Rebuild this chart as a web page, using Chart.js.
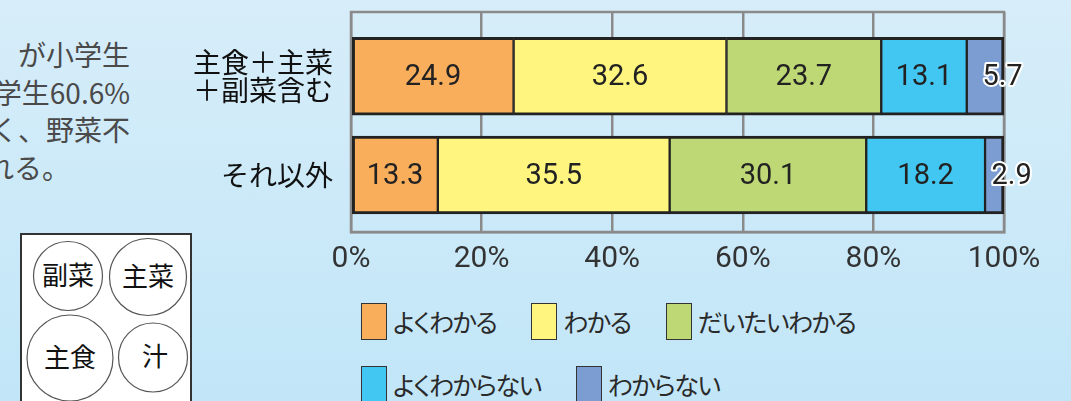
<!DOCTYPE html>
<html lang="ja">
<head>
<meta charset="utf-8">
<script src="https://cdn.jsdelivr.net/npm/chart.js@4.4.1/dist/chart.umd.min.js"></script>
<style>
  html, body { margin: 0; padding: 0; }
  body {
    width: 1071px; height: 401px; overflow: hidden; position: relative;
    background: linear-gradient(180deg, #d7edf9 0%, #c1e6f8 100%);
    font-family: "Noto Sans CJK JP", sans-serif;
  }
  #para { position: absolute; left: -200px; top: 36px; width: 330px; color: #4a4a4a;
          font-size: 28px; line-height: 37.5px; text-align: right; white-space: nowrap; }
  #para .last { padding-right: 60px; }
  #plate { position: absolute; left: 20px; top: 233px; width: 168px; height: 200px;
           background: #fff; border: 2px solid #333; }
  #dishes { position: absolute; left: 0; top: 0; }
  #chartBox { position: absolute; left: 150px; top: 0; }
  #legend { position: absolute; left: 361px; top: 302px; color: #2a2a2a; font-size: 25px;
            letter-spacing: -1.5px; font-feature-settings: "palt"; }
  .row { display: flex; gap: 35px; height: 38px; margin-bottom: 25px; }
  .item { display: flex; align-items: center; }
  .swatch { width: 24px; height: 35px; border: 1.5px solid #333; margin-right: 6px; }
</style>
</head>
<body>

<div id="para">
  <div>が小学生</div>
  <div>学生60.6%</div>
  <div>く、野菜不</div>
  <div class="last">れる。</div>
</div>

<div id="plate"></div>
<svg id="dishes" width="200" height="401" font-family="Noto Sans CJK JP" font-size="26" fill="#111" text-anchor="middle">
  <g fill="#fff" stroke="#555" stroke-width="1.2">
    <circle cx="68" cy="276" r="34.5"/>
    <circle cx="148" cy="277" r="38.5"/>
    <circle cx="70" cy="358" r="43"/>
    <circle cx="153" cy="357.5" r="34.5"/>
  </g>
  <text x="68" y="285">副菜</text>
  <text x="148" y="286">主菜</text>
  <text x="70" y="367">主食</text>
  <text x="155" y="366">汁</text>
</svg>

<div id="chartBox"><canvas id="barChart" width="921" height="290"></canvas></div>
<div id="legend"></div>

<script>
// categories (top to bottom) and series values (%)
const categories = [['主食＋主菜', '＋副菜含む'], 'それ以外'];
const seriesNames = ['よくわかる', 'わかる', 'だいたいわかる', 'よくわからない', 'わからない'];
const yokuWakaru = [24.9, 13.3];
const wakaru = [32.6, 35.5];
const daitaiWakaru = [23.7, 30.1];
const yokuWakaranai = [13.1, 18.2];
const wakaranai = [5.7, 2.9];
const xTickLabels = ['0%', '20%', '40%', '60%', '80%', '100%'];
const seriesColors = ['#f9ae5c', '#fff57f', '#bdd874', '#41c7f2', '#7c9dd1'];

const seriesValues = [yokuWakaru, wakaru, daitaiWakaru, yokuWakaranai, wakaranai];
const gridColor = '#8a8a8a';

// legend (html, two rows like the print)
const legendEl = document.getElementById('legend');
[[0, 1, 2], [3, 4]].forEach(idxs => {
    const row = document.createElement('div');
    row.className = 'row';
    idxs.forEach(i => {
        const item = document.createElement('div');
        item.className = 'item';
        item.innerHTML = `<span class="swatch" style="background:${seriesColors[i]}"></span><span>${seriesNames[i]}</span>`;
        row.appendChild(item);
    });
    legendEl.appendChild(row);
});

// grey frame round the plot area
const frame = {
    id: 'frame',
    beforeDatasetsDraw(chart) {
        const { ctx, chartArea: a } = chart;
        ctx.save();
        ctx.strokeStyle = gridColor;
        ctx.lineWidth = 2.5;
        ctx.strokeRect(a.left, a.top, a.right - a.left, a.bottom - a.top);
        ctx.restore();
    }
};

// value labels inside the segments
const barLabels = {
    id: 'barLabels',
    afterDatasetsDraw(chart) {
        const ctx = chart.ctx;
        ctx.save();
        ctx.font = '29px Roboto';
        ctx.textBaseline = 'middle';
        ctx.lineJoin = 'round';
        chart.data.datasets.forEach((ds, di) => {
            chart.getDatasetMeta(di).data.forEach((bar, i) => {
                const v = ds.data[i].x;
                const txt = v.toFixed(1);
                const mid = (bar.x + bar.base) / 2;
                const y = bar.y + 2;
                if (v < 8) {
                    ctx.textAlign = 'left';
                    ctx.lineWidth = 4;
                    ctx.strokeStyle = '#fff';
                    ctx.strokeText(txt, mid - 3, y);
                    ctx.fillStyle = '#222';
                    ctx.fillText(txt, mid - 3, y);
                } else {
                    ctx.textAlign = 'center';
                    ctx.fillStyle = '#222';
                    ctx.fillText(txt, mid, y);
                }
            });
        });
        ctx.restore();
    }
};

const last = seriesNames.length - 1;
const datasets = seriesNames.map((name, di) => ({
    label: name,
    data: seriesValues[di].map((v, i) => ({ x: v, y: i })),
    backgroundColor: seriesColors[di],
    borderColor: '#222',
    borderWidth: { top: 3, bottom: 3, left: di === 0 ? 3 : 1.5, right: di === last ? 3 : 1.5 },
    borderSkipped: false,
    barThickness: 78,
    grouped: false
}));

new Chart(document.getElementById('barChart'), {
    type: 'bar',
    data: { datasets },
    options: {
        indexAxis: 'y',
        responsive: false,
        animation: false,
        devicePixelRatio: 1,
        layout: { padding: { top: 12, right: 67, left: 0, bottom: 0 } },
        plugins: { legend: { display: false }, tooltip: { enabled: false } },
        scales: {
            x: {
                stacked: true,
                min: 0,
                max: 100,
                afterFit: s => { s.height = 58; },
                grid: { color: gridColor, lineWidth: 2.5, drawTicks: false },
                border: { color: gridColor, width: 2.5 },
                ticks: {
                    stepSize: 20,
                    padding: 9,
                    color: '#333',
                    font: { family: 'Roboto', size: 30 },
                    callback: (v, i) => xTickLabels[i]
                }
            },
            y: {
                type: 'linear',
                offset: false,
                reverse: true,
                min: -0.65,
                max: 1.577,
                afterBuildTicks: s => { s.ticks = categories.map((c, i) => ({ value: i })); },
                afterFit: s => { s.width = 201; s.paddingTop = 0; s.paddingBottom = 0; },
                grid: { display: false, drawTicks: false },
                border: { display: false },
                ticks: {
                    padding: 18,
                    color: '#111',
                    font: { family: 'Noto Sans CJK JP', size: 28, lineHeight: 1 },
                    callback: v => categories[v]
                }
            }
        }
    },
    plugins: [frame, barLabels]
});
</script>
</body>
</html>
